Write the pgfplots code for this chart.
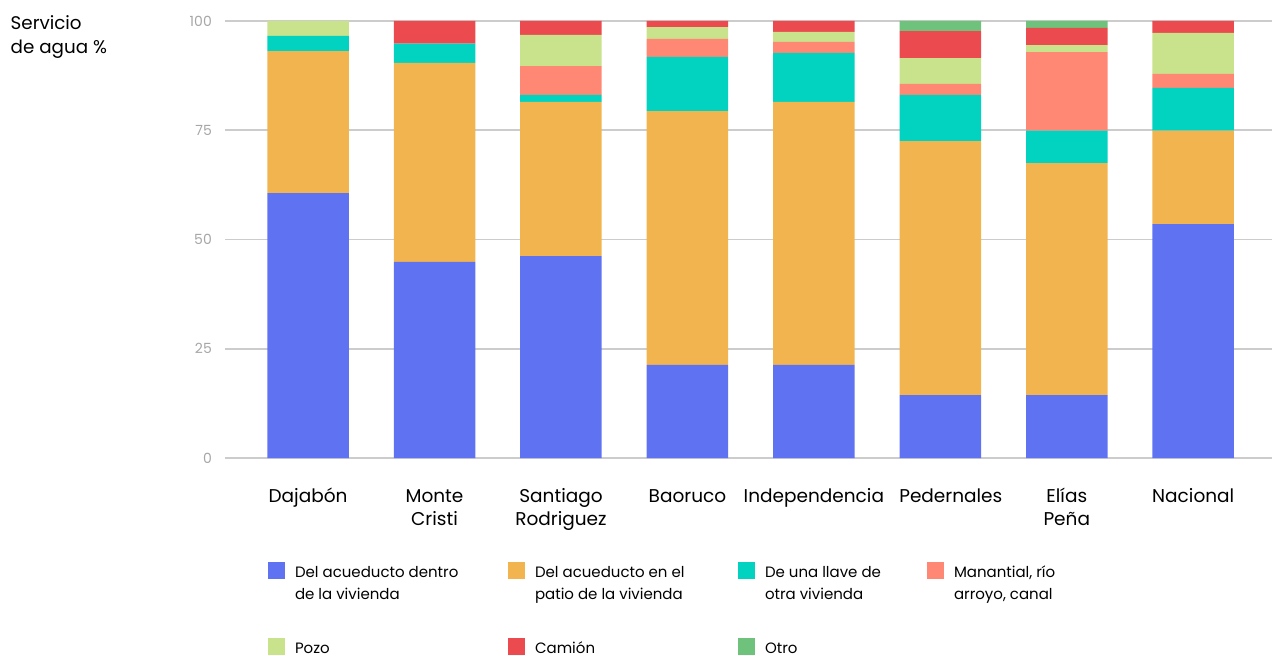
\documentclass[border=0pt]{standalone}
\usepackage{pgfplots}
\usepackage{pgfplotstable}
\pgfplotsset{compat=1.18}
\usepackage{fontspec}
\setmainfont{Poppins}
\definecolor{cBlue}{HTML}{5F73F2}
\definecolor{cOrange}{HTML}{F2B44F}
\definecolor{cTeal}{HTML}{02D2C0}
\definecolor{cSalmon}{HTML}{FF8875}
\definecolor{cPozo}{HTML}{C9E28C}
\definecolor{cRed}{HTML}{EB4B4F}
\definecolor{cGreen}{HTML}{6FC27B}
\definecolor{cGrid}{HTML}{CCCCCC}
\definecolor{cTick}{HTML}{A6A6A6}

\pgfplotstableread{
x dentro patio llave manantial pozo camion otro
0 60.6 32.5 3.5 0 3.4 0 0
1 44.9 45.5 4.4 0 0 5.2 0
2 46.2 35.3 1.6 6.6 7.1 3.2 0
3 21.3 58.1 12.4 4.1 2.7 1.4 0
4 21.3 60.2 11.2 2.5 2.3 2.5 0
5 14.4 58.1 10.6 2.5 5.9 6.2 2.3
6 14.4 53.1 7.4 18.0 1.6 3.9 1.6
7 53.5 21.4 9.8 3.2 9.4 2.7 0
}\datatable

\begin{document}
\begin{tikzpicture}[x=1pt,y=1pt]
\useasboundingbox (0,0) rectangle (1272,656);
\node[anchor=base west, inner sep=0pt, font=\fontsize{18.3}{24}\selectfont] at (10.5,626) {Servicio};
\node[anchor=base west, inner sep=0pt, font=\fontsize{18.3}{24}\selectfont] at (10.5,602) {de agua \%};
\begin{axis}[
  at={(225pt,198pt)}, anchor=south west,
  scale only axis, width=1047pt, height=437pt,
  ybar stacked, bar width=81.5pt,
  xmin=-0.657, xmax=7.623, ymin=0, ymax=100,
  axis line style={draw=none},
  major tick length=0pt,
  ytick={0,25,50,75,100},
  ymajorgrids, major grid style={cGrid, line width=1.6pt},
  yticklabel style={/pgf/number format/assume math mode=true, font=\fontsize{14}{17}\selectfont, text=cTick, anchor=east, inner sep=0pt, xshift=-13pt},
  xtick=data,
  xticklabels={{\strut Dajabón},{\strut Monte\\Cristi},{\strut Santiago\\Rodriguez},{\strut Baoruco},{\strut Independencia},{\strut\hspace*{21pt}Pedernales},{\strut Elías\\Peña},{\strut Nacional}},
  xticklabel style={align=center, font=\fontsize{18.5}{23}\selectfont, anchor=north, inner sep=0pt, yshift=-28pt},
  legend columns=4,
  legend cell align=left,
  legend image code/.code={\fill[#1] (0pt,-2pt) rectangle (17pt,15pt);},
  legend style={draw=none, fill=none, inner sep=0pt, outer sep=0pt,
    at={(axis description cs:0.0411,-0.238)}, anchor=north west,
    font=\fontsize{15}{22}\selectfont,
    cells={anchor=base west, inner sep=0pt},
    column sep=0pt, row sep=57.5pt,
    /tikz/every odd column/.append style={column sep=8pt}},
]
\addplot+[fill=cBlue, draw=none] table[x=x, y=dentro] {\datatable};
\addplot+[fill=cOrange, draw=none] table[x=x, y=patio] {\datatable};
\addplot+[fill=cTeal, draw=none] table[x=x, y=llave] {\datatable};
\addplot+[fill=cSalmon, draw=none] table[x=x, y=manantial] {\datatable};
\addplot+[fill=cPozo, draw=none] table[x=x, y=pozo] {\datatable};
\addplot+[fill=cRed, draw=none] table[x=x, y=camion] {\datatable};
\addplot+[fill=cGreen, draw=none] table[x=x, y=otro] {\datatable};
\legend{{\parbox[t]{211pt}{Del acueducto dentro\\de la vivienda}},
        {\parbox[t]{201pt}{Del acueducto en el\\patio de la vivienda}},
        {\parbox[t]{160pt}{De una llave de\\otra vivienda}},
        {\parbox[t]{150pt}{Manantial, río\\arroyo, canal}},
        Pozo, Camión, Otro}
\end{axis}
\end{tikzpicture}
\end{document}
